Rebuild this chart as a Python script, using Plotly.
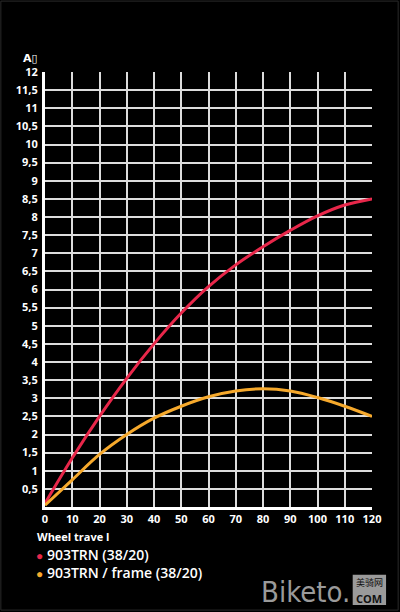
import plotly.graph_objects as go

travel = [0, 10, 20, 30, 40, 50, 60, 70, 80, 90, 100, 110, 120]
trn = [0.1, 1.35, 2.5, 3.55, 4.5, 5.35, 6.08, 6.68, 7.18, 7.63, 8.03, 8.33, 8.5]
trn_frame = [0.05, 0.75, 1.45, 2.0, 2.45, 2.78, 3.04, 3.2, 3.26, 3.2, 3.02, 2.78, 2.5]

series_names = ["903TRN (38/20)", "903TRN / frame (38/20)"]
series_colors = ["#e8274a", "#f6a92c"]

x_ticks = [0, 10, 20, 30, 40, 50, 60, 70, 80, 90, 100, 110, 120]
x_ticktext = [str(v) for v in x_ticks]
y_ticks = [i * 0.5 for i in range(1, 25)]
y_ticktext = [("%g" % v).replace(".", ",") for v in y_ticks]

y_title = "A\u25af"
x_title = "Wheel trave l"

FONT = "Open Sans"

fig = go.Figure()
for name, vals, col in zip(series_names, [trn, trn_frame], series_colors):
    fig.add_trace(go.Scatter(x=travel, y=vals, name=name, mode="lines",
                             line=dict(color=col, width=3, shape="spline"),
                             showlegend=False))

tickfont = dict(family=FONT, size=11, color="white", weight="bold")
fig.update_layout(
    width=400, height=612,
    paper_bgcolor="#000000", plot_bgcolor="#000000",
    margin=dict(l=45, r=28, t=72, b=105),
    font=dict(family=FONT, color="white"),
    xaxis=dict(range=[0, 120], tickvals=x_ticks, ticktext=x_ticktext,
               showgrid=True, gridcolor="#dcdcdc", gridwidth=2,
               zeroline=False, showline=True, linecolor="white", linewidth=3,
               ticks="", tickfont=tickfont),
    yaxis=dict(range=[0, 12], tickvals=y_ticks, ticktext=y_ticktext,
               showgrid=True, gridcolor="#dcdcdc", gridwidth=2,
               zeroline=False, showline=True, linecolor="white", linewidth=3,
               ticks="outside", ticklen=2, tickcolor="#000000",
               tickfont=tickfont),
)

# axis titles
fig.add_annotation(xref="paper", yref="paper", x=-0.045, y=1.012, xanchor="center", yanchor="bottom",
                   text="<b>" + y_title + "</b>", showarrow=False,
                   font=dict(family="DejaVu Sans", size=11, color="white"))
fig.add_annotation(xref="paper", yref="paper", x=-0.03, y=-0.047, xanchor="left", yanchor="top",
                   text="<b>" + x_title + "</b>", showarrow=False,
                   font=dict(family=FONT, size=11, color="white"))

# legend as annotations
for i, (name, col) in enumerate(zip(series_names, series_colors)):
    fig.add_annotation(xref="paper", yref="paper", x=-0.035, y=-0.083 - i * 0.041,
                       xanchor="left", yanchor="top", showarrow=False,
                       text="<span style='color:%s;font-size:12px'>\u25cf</span> %s" % (col, name),
                       font=dict(family=FONT, size=14, color="white", weight=600))

# watermark
fig.add_annotation(xref="paper", yref="paper", x=0.94, y=-0.152, xanchor="right", yanchor="top",
                   text="Biketo.", showarrow=False,
                   font=dict(family="DejaVu Sans Condensed", size=29, color="#9a9a9a"))
fig.add_shape(type="rect", xref="paper", yref="paper",
              x0=0.941, x1=1.043, y0=-0.225, y1=-0.156,
              fillcolor="#9a9a9a", line=dict(width=0), layer="above")
fig.add_annotation(xref="paper", yref="paper", x=0.992, y=-0.1736, xanchor="center", yanchor="middle",
                   text="美骑网", showarrow=False, borderpad=0,
                   font=dict(family="Noto Sans CJK SC", size=9, color="#111111"))
fig.add_annotation(xref="paper", yref="paper", x=0.992, y=-0.2092, xanchor="center", yanchor="middle",
                   text="<b>COM</b>", showarrow=False, borderpad=0,
                   font=dict(family="Open Sans", size=11, color="#111111"))

# faint frame around the image
fig.add_shape(type="rect", xref="paper", yref="paper",
              x0=-0.135, x1=1.08, y0=-0.237, y1=1.163,
              line=dict(color="#2a2a2a", width=1), layer="below")

fig.write_html("out.html", config={"displayModeBar": False},
               post_script="document.body.style.margin='0';")
